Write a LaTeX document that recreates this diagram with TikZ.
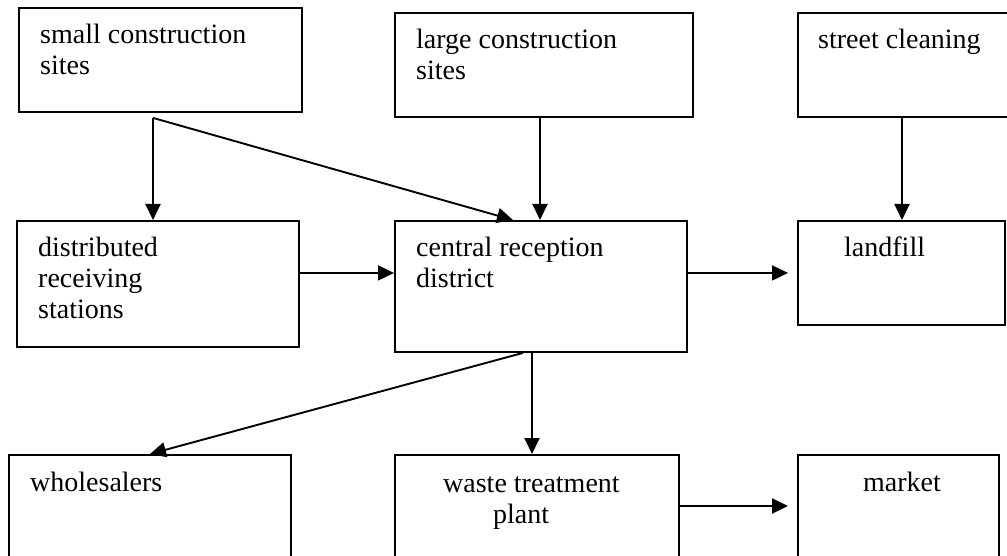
\documentclass[tikz,border=0pt]{standalone}
\usepackage{fontspec}
\setmainfont{Liberation Serif}
\usetikzlibrary{arrows.meta,calc}
\begin{document}
\begin{tikzpicture}[x=1pt,y=-1pt,
  box/.style={draw, line width=1.9pt, inner sep=0pt, anchor=north west},
  lbl/.style={inner sep=0pt, anchor=base west, font=\fontsize{28}{31}\selectfont},
  arr/.style={line width=1.9pt, -{Triangle[length=16pt,width=15pt]}}]
\useasboundingbox (0,0) rectangle (1007,556);
% boxes
\node[box, minimum width=283pt, minimum height=104pt] (b1) at (18,7) {};
\node[box, minimum width=298pt, minimum height=104pt] (b2) at (394,12) {};
\node[box, minimum width=213pt, minimum height=104pt] (b3) at (797,12) {};
\node[box, minimum width=282pt, minimum height=126pt] (b4) at (16,220) {};
\node[box, minimum width=292pt, minimum height=131pt] (b5) at (394,220) {};
\node[box, minimum width=207pt, minimum height=104pt] (b6) at (797,220) {};
\node[box, minimum width=282pt, minimum height=120pt] (b7) at (8,454) {};
\node[box, minimum width=284pt, minimum height=120pt] (b8) at (394,454) {};
\node[box, minimum width=201pt, minimum height=120pt] (b9) at (797,454) {};
% labels
\node[lbl] (t1) at (40,44) {\begin{tabular}[t]{@{}l@{}}small construction\\sites\end{tabular}};
\node[lbl] (t2) at (416,49) {\begin{tabular}[t]{@{}l@{}}large construction\\sites\end{tabular}};
\node[lbl] (t3) at (818,49) {street cleaning};
\node[lbl] (t4) at (38,257) {\begin{tabular}[t]{@{}l@{}}distributed\\receiving\\stations\end{tabular}};
\node[lbl] (t5) at (416,257) {\begin{tabular}[t]{@{}l@{}}central reception\\district\end{tabular}};
\node[lbl] (t6) at (844,257) {landfill};
\node[lbl] (t7) at (30,491) {wholesalers};
\node[lbl] (t8) at (443,492) {\begin{tabular}[t]{@{}l@{}}waste treatment\\\hspace*{50pt}plant\end{tabular}};
\node[lbl] (t9) at (863,491) {market};
% connectors
\coordinate (j1) at ($(b1.south west)+(135,5)$);
\coordinate (j2) at ($(b2.south west)+(146,0)$);
\coordinate (j3) at ($(b5.south west)+(138,0)$);
\coordinate (j4) at ($(b3.south west)+(105,0)$);
\draw[arr] (j1) -- (j1 |- b4.north);
\draw[arr] (j1) -- ($(b5.north west)+(119,0)$);
\draw[arr] (j2) -- (j2 |- b5.north);
\draw[arr] (j4) -- (j4 |- b6.north);
\draw[arr] (b4.east |- b6.west) -- (b5.west |- b6.west);
\draw[arr, shorten >=9pt] (b5.east |- b6.west) -- (b6.west);
\draw[arr] (j3) -- (j3 |- b8.north);
\draw[arr] ($(b5.south west)+(129,0)$) -- (b7.north);
\draw[arr, shorten >=9pt] ($(b8.north east)+(0,52)$) -- ($(b9.north west)+(0,52)$);
\end{tikzpicture}
\end{document}
